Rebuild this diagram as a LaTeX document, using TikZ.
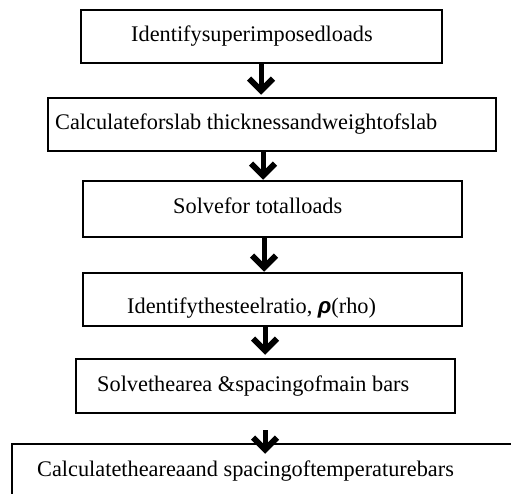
\documentclass[tikz,border=0pt]{standalone}
\usepackage{fontspec}
\setmainfont{Liberation Serif}
\newfontfamily\rhofont{Liberation Sans}
\usetikzlibrary{arrows.meta,calc}

\begin{document}
\begin{tikzpicture}[x=1pt,y=-1pt,
  stepbox/.style={draw, line width=2.5pt, inner sep=0pt},
  steptext/.style={anchor=base west, inner sep=0pt, font=\fontsize{22.3}{26}\selectfont},
  flow/.style={line width=5pt, -{Straight Barb[length=12pt,width=24pt,line width=6pt]}}]

  % page frame
  \useasboundingbox (0,0) rectangle (511,494);
  \fill[white] (0,0) rectangle (511,494);
  \clip (0,0) rectangle (511,494);

  % process boxes
  \node[stepbox, minimum width=361pt, minimum height=53pt] (b1) at (261.5,36.5) {};
  \node[stepbox, minimum width=448pt, minimum height=53pt] (b2) at (272,124.5) {};
  \node[stepbox, minimum width=379pt, minimum height=56pt] (b3) at (272.5,209) {};
  \node[stepbox, minimum width=379pt, minimum height=53pt] (b4) at (272.5,299.5) {};
  \node[stepbox, minimum width=379pt, minimum height=54pt] (b5) at (265.5,386) {};
  \node[stepbox, minimum width=528pt, minimum height=76pt] (b6) at (276,482) {};

  % box captions
  \node[steptext] (t1) at (131,42) {Identifysuperimposedloads};
  \node[steptext] (t2) at (55,130) {Calculateforslab thicknessandweightofslab};
  \node[steptext] (t3) at (173,214) {Solvefor totalloads};
  \node[steptext] (t4) at (127,313) {Identifythesteelratio, {\rhofont\bfseries\itshape ρ}(rho)};
  \node[steptext] (t5) at (97,391) {Solvethearea \&spacingofmain bars};
  \node[steptext] (t6) at (37,476) {Calculatetheareaand spacingoftemperaturebars};

  % arrow columns
  \coordinate (a1) at (261,0);
  \coordinate (a2) at (263,0);
  \coordinate (a3) at (264,0);
  \coordinate (a4) at (265,0);
  \coordinate (a5) at (265,430);

  % flow arrows
  \draw[flow] (a1 |- b1.south) -- ($(a1 |- b2.north)+(0,-2)$);
  \draw[flow] (a2 |- b2.south) -- (a2 |- b3.north);
  \draw[flow] (a3 |- b3.south) -- (a3 |- b4.north);
  \draw[flow] (a4 |- b4.south) -- ($(a4 |- b5.north)+(0,-3)$);
  \draw[flow] (a5) -- ($(a5 |- b6.north)+(0,11)$);
\end{tikzpicture}
\end{document}
